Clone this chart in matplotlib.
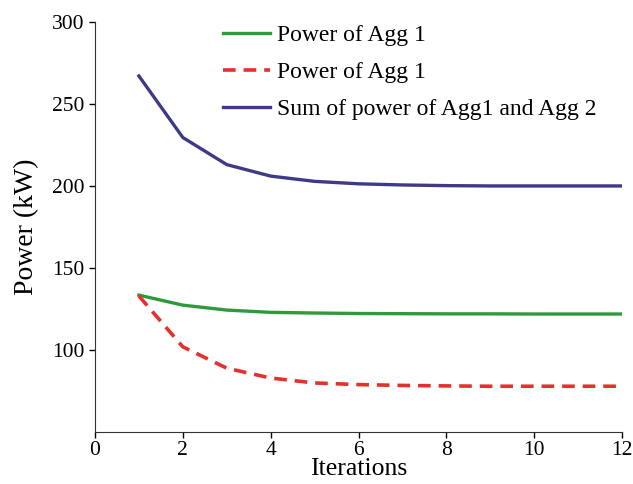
import matplotlib
matplotlib.use("Agg")
import matplotlib.pyplot as plt

plt.rcParams['font.family'] = ['Liberation Serif', 'DejaVu Serif']

iterations = [1, 2, 3, 4, 5, 6, 7, 8, 9, 10, 11, 12]
agg1 = [133.5, 127.4, 124.4, 123.0, 122.6, 122.3, 122.2, 122.1, 122.1, 122.0, 122.0, 122.0]
agg2 = [133.0, 102.0, 89.0, 83.0, 80.0, 79.0, 78.5, 78.2, 78.0, 78.0, 78.0, 78.0]
total = [267.0, 229.5, 213.0, 206.0, 202.8, 201.3, 200.6, 200.2, 200.0, 200.0, 200.0, 200.0]

labels = ['Power of Agg 1', 'Power of Agg 1', 'Sum of power of Agg1 and Agg 2']

fig = plt.figure(figsize=(6.33, 4.84), dpi=100)
ax = fig.add_axes([0.150, 0.107, 0.833, 0.848])

ax.plot(iterations, agg1, color='#2f9a3c', lw=2.4, label=labels[0])
ax.plot(iterations, agg2, color='#e5302d', lw=2.6, ls=(0, (3.5, 2.2)), label=labels[1])
ax.plot(iterations, total, color='#3e3a87', lw=2.4, label=labels[2])

ax.set_xlim(0, 12)
ax.set_ylim(50, 300)
ax.set_xticks([0, 2, 4, 6, 8, 10, 12])
ax.set_yticks([100, 150, 200, 250, 300])
ax.tick_params(labelsize=15.5, length=4, width=1, direction='out')
ax.tick_params(axis='x', pad=2)

ax.spines['top'].set_visible(False)
ax.spines['right'].set_visible(False)
for s in ('left', 'bottom'):
    ax.spines[s].set_color('#333333')

ax.set_xlabel('Iterations', fontsize=18.5, labelpad=-1)
ax.set_ylabel('Power (kW)', fontsize=20, labelpad=9)

ax.legend(loc='upper left', bbox_to_anchor=(0.202, 1.045), frameon=False,
          fontsize=17, handlelength=2.0, handletextpad=0.3, labelspacing=0.66)

fig.savefig('out.png', dpi=100)
